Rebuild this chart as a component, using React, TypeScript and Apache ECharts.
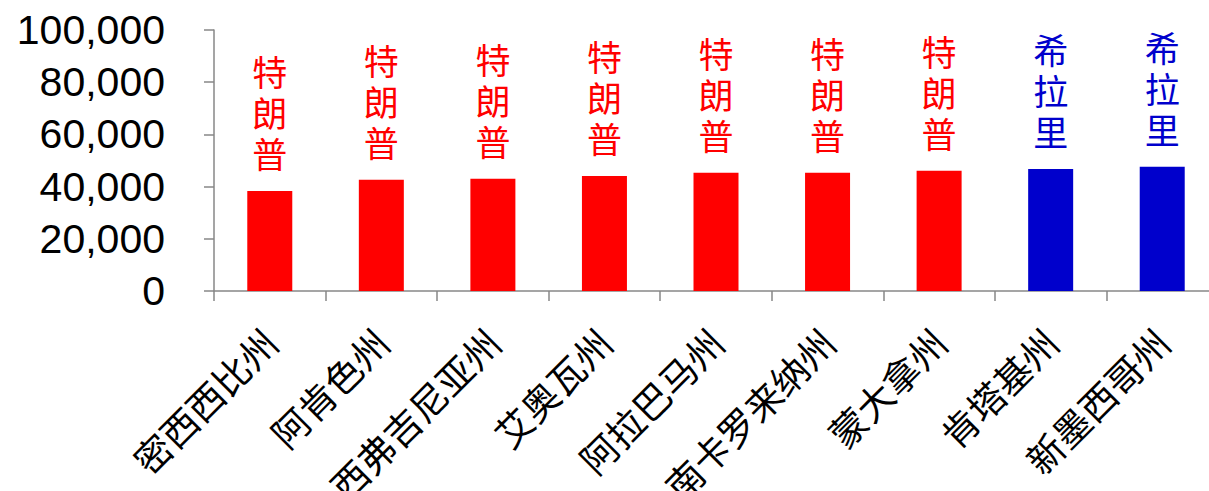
import React, { useEffect, useRef } from "react";
import * as echarts from "echarts";

const categories = ["密西西比州", "阿肯色州", "西弗吉尼亚州", "艾奥瓦州", "阿拉巴马州", "南卡罗来纳州", "蒙大拿州", "肯塔基州", "新墨西哥州"];
const values = [38300, 42600, 43000, 44100, 45300, 45300, 46100, 46700, 47600];
const winners = ["特朗普", "特朗普", "特朗普", "特朗普", "特朗普", "特朗普", "特朗普", "希拉里", "希拉里"];
const yTicks = [0, 20000, 40000, 60000, 80000, 100000];

const partyColor: Record<string, string> = { "特朗普": "#FF0000", "希拉里": "#0000CC" };

export default function App() {
  const ref = useRef<HTMLDivElement>(null);
  useEffect(() => {
    if (!ref.current) return;
    const chart = echarts.init(ref.current, undefined, { renderer: "svg" });
    const data = values.map((v, i) => ({
      value: v,
      itemStyle: { color: partyColor[winners[i]] },
      label: { color: partyColor[winners[i]] },
    }));
    chart.setOption({
      animation: false,
      backgroundColor: "#FFFFFF",
      grid: { left: 214, right: -9, top: 30, bottom: 200, containLabel: false, outerBoundsMode: "none" },
      xAxis: {
        type: "category",
        data: categories,
        axisLine: { lineStyle: { color: "#878787", width: 1.5 } },
        axisTick: { show: true, length: 10, interval: 0, lineStyle: { color: "#878787", width: 1.5 } },
        axisLabel: {
          interval: 0,
          rotate: 45,
          margin: 44,
          fontSize: 37,
          color: "#000000",
          fontFamily: "'Noto Sans CJK SC', sans-serif",
        },
      },
      yAxis: {
        type: "value",
        min: yTicks[0],
        max: yTicks[yTicks.length - 1],
        interval: yTicks[1] - yTicks[0],
        axisLine: { show: true, lineStyle: { color: "#878787", width: 1.5 } },
        axisTick: { show: true, length: 10, lineStyle: { color: "#878787", width: 1.5 } },
        splitLine: { show: false },
        axisLabel: {
          margin: 49,
          fontSize: 41,
          color: "#000000",
          fontFamily: "'Liberation Sans', Arial, sans-serif",
          formatter: (v: number) => v.toLocaleString("en-US"),
        },
      },
      series: [
        {
          type: "bar",
          data,
          barWidth: 45,
          label: {
            show: true,
            position: "top",
            distance: 18,
            fontSize: 35,
            lineHeight: 41,
            fontFamily: "'Noto Sans CJK SC', sans-serif",
            formatter: (p: any) => winners[p.dataIndex].split("").join("\n"),
          },
        },
      ],
    });
    return () => chart.dispose();
  }, []);
  return (
    <div
      ref={ref}
      style={{ position: "fixed", left: 0, top: 0, width: 1209, height: 491, background: "#fff" }}
    />
  );
}
